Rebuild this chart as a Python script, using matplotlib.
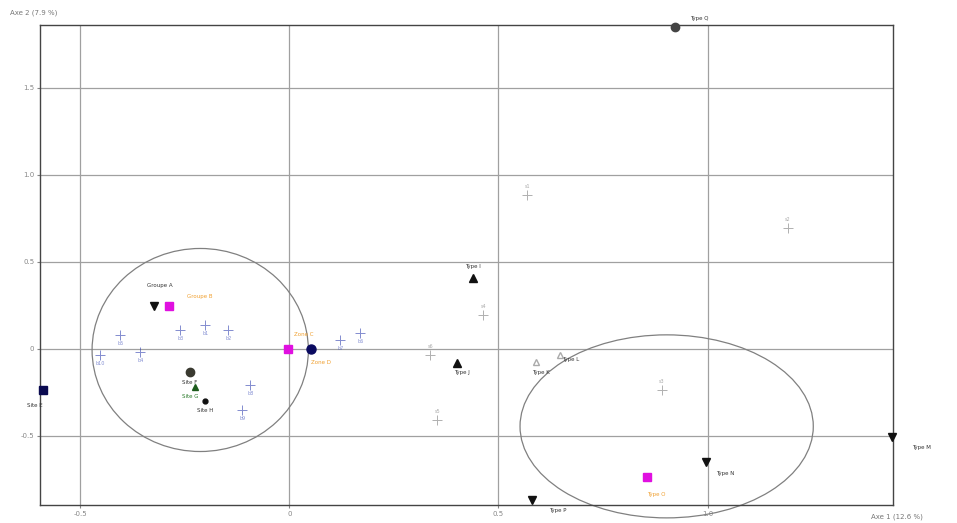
import matplotlib
matplotlib.use("Agg")
import matplotlib.pyplot as plt
from matplotlib.patches import Ellipse

# ---- data ----
main_labels = ["Groupe A", "Groupe B", "Zone C", "Zone D", "Site E", "Site F",
               "Site G", "Site H", "Type I", "Type J", "Type K", "Type L",
               "Type M", "Type N", "Type O", "Type P", "Type Q"]
main_x = [-0.323, -0.287, -0.002, 0.053, -0.589, -0.237, -0.225, -0.201,
          0.438, 0.400, 0.589, 0.648, 1.440, 0.995, 0.854, 0.581, 0.921]
main_y = [0.247, 0.247, 0.000, 0.000, -0.236, -0.132, -0.218, -0.299,
          0.408, -0.080, -0.075, -0.034, -0.506, -0.649, -0.736, -0.868, 1.851]
main_kind = ["tri_down", "sq_mag", "sq_mag", "circ_navy", "sq_navy", "circ_dark",
             "tri_green", "dot_black", "tri_up", "tri_up", "tri_gray", "tri_gray",
             "tri_down", "tri_down", "sq_mag", "tri_down", "circ_gray"]

sup_labels = ["s1", "s2", "s3", "s4", "s5", "s6"]
sup_x = [0.569, 1.191, 0.890, 0.464, 0.354, 0.337]
sup_y = [0.885, 0.695, -0.236, 0.195, -0.408, -0.034]

blue_labels = ["b1", "b2", "b3", "b4", "b5", "b6", "b7", "b8", "b9", "b10"]
blue_x = [-0.201, -0.146, -0.261, -0.356, -0.404, 0.170, 0.122, -0.093, -0.112, -0.452]
blue_y = [0.138, 0.109, 0.109, -0.017, 0.080, 0.092, 0.052, -0.207, -0.351, -0.034]

ell_cx = [-0.213, 0.902]
ell_cy = [-0.006, -0.445]
ell_w = [0.517, 0.701]
ell_h = [1.167, 1.052]

x_ticks = [-0.5, 0, 0.5, 1.0]
y_ticks = [-0.5, 0, 0.5, 1.0, 1.5]

# ---- styles and label placement (pixels) ----
styles = {
    "tri_down": dict(marker="v", color="#111111", ms=6),
    "tri_up": dict(marker="^", color="#111111", ms=6),
    "sq_mag": dict(marker="s", color="#e010e0", ms=6),
    "sq_navy": dict(marker="s", color="#0a0a50", ms=6),
    "circ_navy": dict(marker="o", color="#0a0a60", ms=6.5),
    "circ_dark": dict(marker="o", color="#3a3a30", ms=6),
    "circ_gray": dict(marker="o", color="#444444", ms=6),
    "tri_green": dict(marker="^", color="#1c5a1c", ms=4),
    "dot_black": dict(marker="o", color="#111111", ms=3.5),
    "tri_gray": dict(marker="^", color="#aaaaaa", ms=5, mfc="white"),
}
label_off = [(6, 20), (30, 9), (15, 14), (10, -14), (-8, -15), (0, -11),
             (-5, -10), (0, -10), (0, 11), (5, -10), (5, -11), (10, -5),
             (30, -11), (20, -12), (10, -18), (25, -11), (25, 8)]
label_colors = {"sq_mag": "#f0a030", "circ_navy": "#f0a030", "tri_green": "#2a7a2a"}

fig = plt.figure(figsize=(9.57, 5.23), dpi=100)
ax = fig.add_axes([0.0418, 0.0344, 0.8913, 0.9178])
ax.set_xlim(-0.596, 1.443)
ax.set_ylim(-0.897, 1.862)

ax.set_xticks(x_ticks)
ax.set_yticks(y_ticks)
ax.set_xticklabels(["-0.5", "0", "0.5", "1.0"])
ax.set_yticklabels(["-0.5", "0", "0.5", "1.0", "1.5"])
ax.tick_params(labelsize=5, colors="#888888", length=2, pad=2)
ax.grid(True, color="#a0a0a0", lw=0.9)
ax.set_axisbelow(True)
for s in ax.spines.values():
    s.set_color("#444444")
    s.set_linewidth(1.0)

for cx, cy, w, h in zip(ell_cx, ell_cy, ell_w, ell_h):
    ax.add_patch(Ellipse((cx, cy), w, h, fill=False, ec="#808080", lw=0.9, clip_on=False))

for x, y in zip(blue_x, blue_y):
    ax.plot(x, y, marker="+", color="#3040b0", ms=7, mew=0.7, alpha=0.6)
for x, y, lab in zip(blue_x, blue_y, blue_labels):
    ax.text(x, y - 0.035, lab, fontsize=3.5, color="#5060c0", ha="center", va="top", alpha=0.7)

for x, y in zip(sup_x, sup_y):
    ax.plot(x, y, marker="+", color="#b0b0b0", ms=7, mew=0.7)
for x, y, lab in zip(sup_x, sup_y, sup_labels):
    ax.text(x, y + 0.035, lab, fontsize=3.5, color="#aaaaaa", ha="center", va="bottom")

for x, y, k, lab, off in zip(main_x, main_y, main_kind, main_labels, label_off):
    st = styles[k]
    ax.plot(x, y, marker=st["marker"], color=st["color"], ms=st["ms"],
            mfc=st.get("mfc", st["color"]), clip_on=False, zorder=5)
    ax.annotate(lab, (x, y), xytext=off, textcoords="offset pixels", fontsize=4,
                color=label_colors.get(k, "#333333"), ha="center", va="center",
                annotation_clip=False)

fig.text(0.010, 0.975, "Axe 2 (7.9 %)", fontsize=5, color="#777777", ha="left", va="center")
fig.text(0.91, 0.012, "Axe 1 (12.6 %)", fontsize=5, color="#777777", ha="left", va="center")

fig.savefig("out.png", dpi=100)
